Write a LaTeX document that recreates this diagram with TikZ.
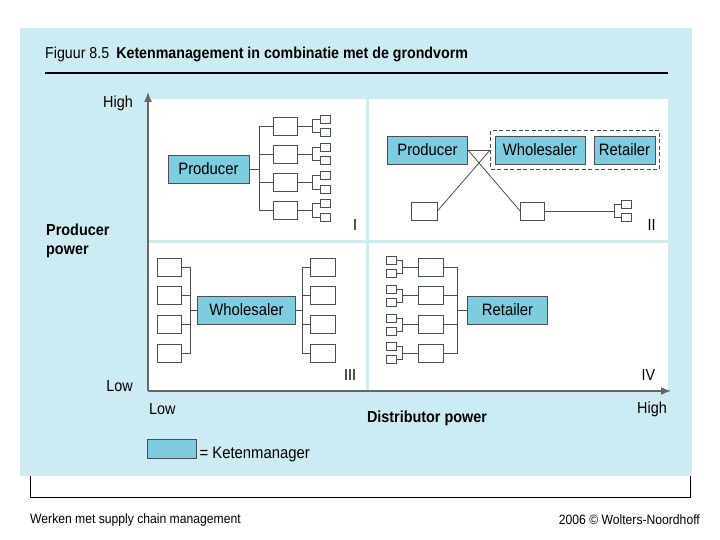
\documentclass[tikz,border=0pt]{standalone}
\usepackage{fontspec}
\setmainfont{Liberation Sans}[FakeStretch=0.9]
\usepackage{tikz}
\usetikzlibrary{arrows.meta,positioning,fit}
\definecolor{panelblue}{RGB}{204,235,243}
\definecolor{ketenblue}{RGB}{125,204,223}
\definecolor{boxline}{RGB}{70,80,85}
\newcommand{\boxfont}{\fontsize{16.5}{18}\selectfont}
\newcommand{\labelfont}{\fontsize{16}{19}\selectfont}
\newcommand{\titlefont}{\fontsize{15.8}{18}\selectfont}
\newcommand{\footfont}{\fontsize{13.5}{15}\selectfont}

\begin{document}
\begin{tikzpicture}[x=1pt,y=-1pt,
    keten/.style={draw=boxline,fill=ketenblue,line width=0.9pt,minimum height=28,inner sep=0,font=\boxfont},
    cell/.style={draw=boxline,fill=white,line width=0.8pt,minimum width=24,minimum height=18,inner sep=0},
    twig/.style={draw=boxline,fill=white,line width=0.8pt,minimum width=10,minimum height=8,inner sep=0},
    link/.style={draw=boxline,line width=0.8pt},
    axisline/.style={draw=gray!80!black,line width=1.4pt,-{Latex[length=10pt,width=8pt]}},
    lbl/.style={font=\labelfont,inner sep=0}]
    \useasboundingbox (0,0) rectangle (720,540);
    \fill[white] (0,0) rectangle (720,540);
    \draw[line width=1pt] (30,60) rectangle (690,497);
    \fill[panelblue] (20,28) rectangle (692,476);
    \fill[white] (148,99) rectangle (668,391);
    \draw[panelblue,line width=3pt] (367,99) -- (367,391);
    \draw[panelblue,line width=3pt] (148,241) -- (668,241);

    % title
    \node[anchor=base west,inner sep=0,font=\titlefont] (title) at (45,59) {Figuur 8.5\hspace{0.45em}\textbf{Ketenmanagement in combinatie met de grondvorm}};
    \draw[line width=1.5pt] (45,73) -- (668,73);

    % axes
    \coordinate (origin) at (148,391);
    \coordinate (ytop) at (148,92);
    \coordinate (xend) at (671,391);
    \draw[axisline] (origin) -- (ytop);
    \draw[axisline] (origin) -- (xend);
    \node[lbl,anchor=east] (yhigh) at (133,103.5) {High};
    \node[lbl,anchor=east] (ylow) at (133,386) {Low};
    \node[lbl,anchor=west,align=left,font=\labelfont\bfseries] (ylabel) at (46,240.5) {Producer\\power};
    \node[lbl,anchor=west] (xlow) at (149,409) {Low};
    \node[lbl,anchor=east] (xhigh) at (667,409) {High};
    \node[lbl,font=\labelfont\bfseries] (xlabel) at (427,418) {Distributor power};

    % quadrant I
    \node[keten,minimum width=81] (prodI) at (208.5,169) {Producer};
    \coordinate (busI) at (259,169);
    \draw[link] (prodI) -- (busI);
    \foreach \i/\y in {1/126,2/154,3/182.5,4/210.5} {
        \node[cell] (midI\i) at (285,\y) {};
        \node[twig] (upI\i) at (325.5,{\y-6.6}) {};
        \node[twig] (dnI\i) at (325.5,{\y+6.6}) {};
        \coordinate (forkI\i) at (312.5,\y);
        \draw[link] (busI) |- (midI\i);
        \draw[link] (midI\i) -- (forkI\i) |- (upI\i);
        \draw[link] (forkI\i) |- (dnI\i);
    }
    \node[lbl] (qI) at (355,225) {I};

    % quadrant II
    \node[keten,minimum width=80] (prodII) at (427.5,150) {Producer};
    \node[keten,minimum width=90] (wholeII) at (540,150) {Wholesaler};
    \node[keten,minimum width=61] (retII) at (624.5,150) {Retailer};
    \node[draw=boxline,line width=0.8pt,dash pattern=on 4pt off 2.5pt,inner xsep=4,inner ysep=5,fit=(wholeII)(retII)] (chainII) {};
    \node[cell,minimum width=26] (leftII) at (424,211) {};
    \node[cell] (midII) at (532.5,211) {};
    \node[twig] (upII) at (626.5,204.4) {};
    \node[twig] (dnII) at (626.5,217.6) {};
    \coordinate (forkII) at (614,211);
    \draw[link] (prodII.east) -- (chainII.west);
    \draw[link] (prodII.east) -- (midII.west);
    \draw[link] (chainII.west) -- (leftII.east);
    \draw[link] (midII) -- (forkII) |- (upII);
    \draw[link] (forkII) |- (dnII);
    \node[lbl] (qII) at (651.5,225) {II};

    % quadrant III
    \node[keten,minimum width=98] (wholeIII) at (246.5,310) {Wholesaler};
    \coordinate (busLIII) at (190,310);
    \coordinate (busRIII) at (302,310);
    \draw[link] (wholeIII) -- (busLIII);
    \draw[link] (wholeIII) -- (busRIII);
    \foreach \i/\y in {1/267,2/295.5,3/324.5,4/353} {
        \node[cell] (inIII\i) at (169.5,\y) {};
        \node[cell,minimum width=25] (outIII\i) at (323,\y) {};
        \draw[link] (busLIII) |- (inIII\i);
        \draw[link] (busRIII) |- (outIII\i);
    }
    \node[lbl] (qIII) at (350,375) {III};

    % quadrant IV
    \node[keten,minimum width=80] (retIV) at (507.5,310) {Retailer};
    \coordinate (busIV) at (457,310);
    \draw[link] (retIV) -- (busIV);
    \foreach \i/\y in {1/267,2/295.5,3/324.5,4/353} {
        \node[cell,minimum width=25] (midIV\i) at (431,\y) {};
        \node[twig] (upIV\i) at (391,{\y-6.6}) {};
        \node[twig] (dnIV\i) at (391,{\y+6.6}) {};
        \coordinate (forkIV\i) at (402,\y);
        \draw[link] (busIV) |- (midIV\i);
        \draw[link] (midIV\i) -- (forkIV\i) |- (upIV\i);
        \draw[link] (forkIV\i) |- (dnIV\i);
    }
    \node[lbl] (qIV) at (648.5,375) {IV};

    % legend
    \node[keten,minimum width=49,minimum height=19] (legend) at (171.5,448.5) {};
    \node[lbl,anchor=base west,font=\boxfont] (legendtext) at ([xshift=3pt]legend.south east) {= Ketenmanager};

    % footer
    \node[anchor=west,inner sep=0,font=\footfont] (footleft) at (30,520) {Werken met supply chain management};
    \node[anchor=east,inner sep=0,font=\footfont] (footright) at (700,520) {2006 © Wolters-Noordhoff};
\end{tikzpicture}
\end{document}
